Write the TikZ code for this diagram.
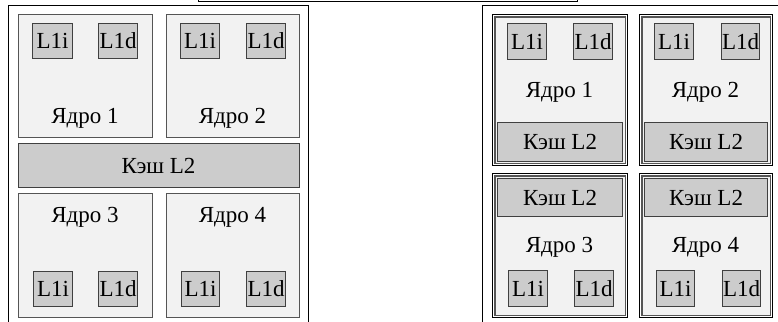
\documentclass[tikz,border=0pt]{standalone}
\usepackage{fontspec}
\setmainfont{Liberation Serif}
\definecolor{corefill}{HTML}{F2F2F2}
\definecolor{coreline}{HTML}{555555}
\definecolor{cachefill}{HTML}{CCCCCC}
\definecolor{cacheline}{HTML}{404040}
\tikzset{
  chip/.style={draw=black, line width=1.3pt, fill=white},
  frame/.style={draw=black, line width=1.3pt},
  core/.style={draw=coreline, line width=1.3pt, fill=corefill},
  cache/.style={draw=cacheline, line width=1.2pt, fill=cachefill, font=\fontsize{23}{27}\selectfont, inner sep=0pt},
  lbl/.style={anchor=base, inner sep=0pt, font=\fontsize{23}{27}\selectfont},
}
\newcommand\bx[7]{%
  \node[#1, anchor=north west, minimum width={(#5-#3)*1pt}, minimum height={(#6-#4)*1pt}] (#2) at (#3,#4) {#7};}
\begin{document}
\begin{tikzpicture}[x=1pt,y=-1pt]
\useasboundingbox (0,0) rectangle (778,321);
\clip (0,0) rectangle (778,321);
% box above (cropped)
\bx{chip}{top}{198}{-60}{577}{0.8}{}
% ---------- left chip ----------
\bx{chip}{chipA}{8}{5}{308}{340}{}
\bx{core}{a1}{18}{14}{152}{137}{}
\bx{core}{a2}{166}{14}{299}{137}{}
\bx{cache}{aL2}{18}{143}{299}{187}{}
\bx{core}{a3}{18}{193}{152}{317}{}
\bx{core}{a4}{166}{193}{299}{317}{}
\bx{cache}{a1i}{32}{23}{72}{58}{L1i}
\bx{cache}{a1d}{98}{23}{137}{58}{L1d}
\bx{cache}{a2i}{180}{23}{219}{58}{L1i}
\bx{cache}{a2d}{246}{23}{285}{58}{L1d}
\bx{cache}{a3i}{33}{271}{72}{306}{L1i}
\bx{cache}{a3d}{98}{271}{137}{306}{L1d}
\bx{cache}{a4i}{181}{271}{219}{306}{L1i}
\bx{cache}{a4d}{246}{271}{285}{306}{L1d}
\node[lbl] (ta1) at (85,123) {Ядро 1};
\node[lbl] (ta2) at (232.5,123) {Ядро 2};
\node[lbl] (taL2) at (158.5,173) {Кэш L2};
\node[lbl] (ta3) at (85,222) {Ядро 3};
\node[lbl] (ta4) at (232.5,222) {Ядро 4};
% ---------- right chip ----------
\bx{chip}{chipB}{482}{5}{800}{340}{}
\bx{frame}{f1}{492}{14}{627}{165}{}
\bx{frame}{f2}{639}{14}{772}{165}{}
\bx{frame}{f3}{492}{173}{627}{317}{}
\bx{frame}{f4}{639}{173}{772}{317}{}
\bx{core}{b1}{494.3}{16.3}{624.7}{162.7}{}
\bx{core}{b2}{641.3}{16.3}{769.7}{162.7}{}
\bx{core}{b3}{494.3}{175.3}{624.7}{314.7}{}
\bx{core}{b4}{641.3}{175.3}{769.7}{314.7}{}
\bx{cache}{b1i}{507}{23}{546}{59}{L1i}
\bx{cache}{b1d}{573}{23}{612}{59}{L1d}
\bx{cache}{b2i}{654}{23}{693}{59}{L1i}
\bx{cache}{b2d}{721}{23}{759}{59}{L1d}
\bx{cache}{b1L2}{497}{122}{622}{161}{Кэш L2}
\bx{cache}{b2L2}{644}{122}{767}{161}{Кэш L2}
\bx{cache}{b3L2}{497}{178}{622}{216}{Кэш L2}
\bx{cache}{b4L2}{644}{178}{767}{216}{Кэш L2}
\bx{cache}{b3i}{508}{270}{547}{306}{L1i}
\bx{cache}{b3d}{574}{270}{613}{306}{L1d}
\bx{cache}{b4i}{656}{270}{694}{306}{L1i}
\bx{cache}{b4d}{722}{270}{760}{306}{L1d}
\node[lbl] (tb1) at (559.5,97) {Ядро 1};
\node[lbl] (tb2) at (705.5,97) {Ядро 2};
\node[lbl] (tb3) at (559.5,252) {Ядро 3};
\node[lbl] (tb4) at (705.5,252) {Ядро 4};
\end{tikzpicture}
\end{document}
